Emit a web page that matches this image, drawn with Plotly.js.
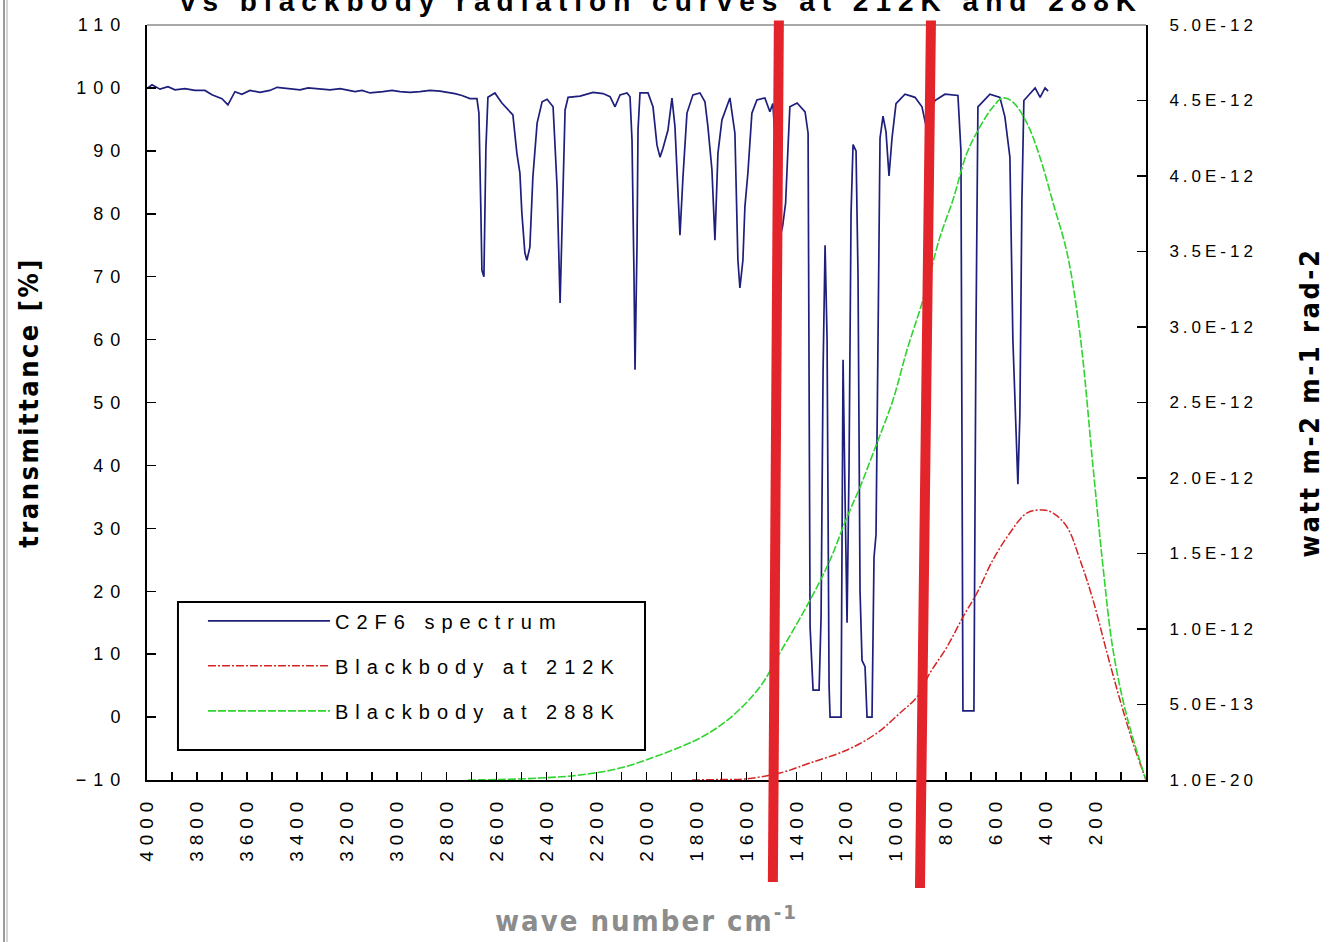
<!DOCTYPE html>
<html>
<head>
<meta charset="utf-8">
<script src="https://cdn.plot.ly/plotly-3.0.1.min.js"></script>
<style>
  html, body { margin: 0; padding: 0; background: #fff; }
  #chart { width: 1342px; height: 942px; }
  .xtick text { letter-spacing: 6px; }
  .ytick text { letter-spacing: 7px; }
  .y2tick text { letter-spacing: 4px; }
  .legendtext { letter-spacing: 7px; }
  .xtitle { letter-spacing: 2px; }
  .ytitle, .y2title { letter-spacing: 2.5px; }
  .gtitle { letter-spacing: 7px; }
</style>
</head>
<body>
<div id="chart"></div>
<script>
// ---- C2F6 transmittance spectrum (wave number cm-1, transmittance %) ----
const specWn = [4000,3980,3948,3916,3888,3848,3808,3768,3740,3700,3676,3648,3620,3588,3548,3508,3479,3427,3387,3355,3327,3267,3227,3195,3167,3139,3107,3055,3019,2987,2947,2907,2867,2827,2795,2767,2739,2707,2679,2671,2663,2659,2651,2647,2643,2635,2607,2579,2555,2535,2519,2507,2499,2487,2479,2467,2455,2438,2418,2398,2374,2358,2346,2334,2326,2314,2266,2214,2174,2146,2126,2106,2078,2066,2058,2050,2046,2038,2034,2026,1994,1974,1958,1946,1934,1914,1898,1886,1874,1866,1854,1838,1814,1786,1766,1754,1738,1726,1714,1698,1666,1646,1634,1626,1614,1606,1594,1578,1558,1526,1506,1494,1479,1467,1455,1443,1434,1426,1397,1365,1353,1349,1345,1333,1309,1301,1293,1285,1277,1269,1265,1221,1213,1205,1197,1189,1181,1173,1161,1153,1145,1137,1125,1117,1097,1089,1081,1073,1065,1053,1041,1029,1017,1001,965,925,897,881,865,845,805,753,741,733,689,681,673,625,585,565,545,533,521,513,505,497,489,465,444,424,404,392];
const specT = [99.9,100.5,99.8,100.2,99.7,99.9,99.6,99.6,98.9,98.3,97.3,99.4,99.0,99.6,99.3,99.6,100.1,99.9,99.7,100.0,99.9,99.7,99.9,99.6,99.4,99.6,99.2,99.4,99.6,99.4,99.3,99.4,99.6,99.5,99.3,99.1,98.8,98.3,98.3,96,80,71,70,80,90.4,98.5,99.2,97.6,96.5,95.7,89.6,86.5,80.1,73.8,72.6,74.7,85.8,94.4,97.8,98.2,97,84.2,65.8,84.2,96.5,98.5,98.7,99.3,99.1,98.6,97,98.9,99.2,98.6,91.7,70,55.2,75,93.3,99.2,99.2,97,90.9,89,90.4,93.3,98.4,93.8,83.3,76.6,85.8,96,98.9,99.2,97.8,93.8,87,75.8,89.6,94.9,98.4,92.8,72.6,68.2,72.6,81.1,86.5,96,98.1,98.4,96.2,97.5,88,76,78,81.7,90,97,97.6,96.2,92.8,62,14.3,4.3,4.3,16,55,75,60,5,0,0,56.8,35,15,40,80,91,90,70,20,9,8,0,0,25.4,29,60,92,95.5,93,86,92,97.5,99,98.5,97,94,96,98,99,98.8,90,1,1,60,97,99,98.5,95.4,89,60,48,37,48,81.7,98,99,100,98.5,100,99.5];

// ---- Blackbody at 212 K (wave number cm-1, watt m-2 m-1 rad-2) ----
const bb212Wn = [1818,1706,1606,1466,1345,1197,1077,985,917,865,797,733,677,613,545,477,412,372,316,264,212,156,104,52,0];
const bb212 = [0,0.003e-12,0.007e-12,0.046e-12,0.113e-12,0.199e-12,0.311e-12,0.444e-12,0.55e-12,0.709e-12,0.881e-12,1.079e-12,1.238e-12,1.457e-12,1.636e-12,1.768e-12,1.788e-12,1.768e-12,1.675e-12,1.457e-12,1.192e-12,0.841e-12,0.53e-12,0.245e-12,0];

// ---- Blackbody at 288 K ----
const bb288Wn = [2715,2587,2426,2266,2106,1946,1786,1666,1546,1466,1345,1265,1197,1145,1077,1013,957,893,825,773,717,665,613,573,533,477,425,372,316,264,212,172,132,76,0];
const bb288 = [0,0.003e-12,0.013e-12,0.033e-12,0.079e-12,0.166e-12,0.278e-12,0.41e-12,0.616e-12,0.841e-12,1.192e-12,1.457e-12,1.742e-12,1.94e-12,2.232e-12,2.517e-12,2.848e-12,3.179e-12,3.596e-12,3.841e-12,4.152e-12,4.325e-12,4.457e-12,4.517e-12,4.49e-12,4.351e-12,4.126e-12,3.821e-12,3.49e-12,2.947e-12,2.073e-12,1.411e-12,0.861e-12,0.417e-12,0];

// ---- axis ticks ----
const xTickVals = [4000,3800,3600,3400,3200,3000,2800,2600,2400,2200,2000,1800,1600,1400,1200,1000,800,600,400,200];
const yRightVals = [0,0.5e-12,1.0e-12,1.5e-12,2.0e-12,2.5e-12,3.0e-12,3.5e-12,4.0e-12,4.5e-12,5.0e-12];
const yRightText = ['1.0E-20','5.0E-13','1.0E-12','1.5E-12','2.0E-12','2.5E-12','3.0E-12','3.5E-12','4.0E-12','4.5E-12','5.0E-12'];

// hand-drawn red marker lines (wave number at top / bottom)
const markTopWn = [1470, 861];
const markBottomWn = [1494, 905];

const titleFont = {family: '"Liberation Sans Narrow", "DejaVu Sans Condensed", "Liberation Sans", sans-serif', size: 27, color: '#000', weight: 'bold'};

const traces = [
  {x: specWn, y: specT, type: 'scatter', mode: 'lines', name: 'C2F6 spectrum', legendgroup: 'a',
   line: {color: '#1e1e7c', width: 1.7}, yaxis: 'y'},
  {x: bb212Wn, y: bb212, type: 'scatter', mode: 'lines', name: 'Blackbody at 212K', legendgroup: 'b',
   line: {color: '#d42424', width: 1.5, dash: '8px,2px,2px,2px', shape: 'spline'}, yaxis: 'y2'},
  {x: bb288Wn, y: bb288, type: 'scatter', mode: 'lines', name: 'Blackbody at 288K', legendgroup: 'c',
   line: {color: '#2fd42f', width: 1.6, dash: '8px,2px', shape: 'spline'}, yaxis: 'y2'}
];

const shapes = [
  // legend frame
  {type: 'rect', xref: 'paper', yref: 'paper', x0: 0.031, x1: 0.4985, y0: 0.0397, y1: 0.2358,
   line: {color: '#000', width: 2}, fillcolor: '#fff', layer: 'below'},
  // top frame line (gray)
  {type: 'line', xref: 'paper', yref: 'paper', x0: 0, x1: 1, y0: 1, y1: 1, line: {color: '#a8a8a8', width: 2}},
  // outer picture border on the left
  {type: 'line', xref: 'paper', yref: 'paper', x0: -0.1431, x1: -0.1431, y0: 1.04, y1: -0.22, line: {color: '#9a9a9a', width: 2}},
  {type: 'line', xref: 'paper', yref: 'paper', x0: -0.1401, x1: -0.1401, y0: 1.04, y1: -0.22, line: {color: '#c8c8c8', width: 1.5}}
];
markTopWn.forEach((w, i) => {
  shapes.push({type: 'line', xref: 'x', yref: 'paper', x0: w, x1: markBottomWn[i], y0: 1.006, y1: i === 0 ? -0.135 : -0.143,
    line: {color: '#e3242b', width: 10}, layer: 'above'});
});

const layout = {
  width: 1342, height: 942,
  margin: {l: 147, r: 196, t: 25, b: 162, pad: 0},
  paper_bgcolor: '#fff', plot_bgcolor: '#fff',
  font: {family: '"Liberation Sans", Arial, sans-serif', color: '#000'},
  showlegend: true,
  title: {text: 'vs blackbody radiation curves at 212K and 288K', xref: 'paper', x: 0.515, xanchor: 'center',
          yref: 'container', y: 0.999, yanchor: 'middle',
          font: {family: '"Liberation Sans", Arial, sans-serif', size: 28, color: '#000', weight: 'bold'}},
  xaxis: {
    range: [4000, 0], tickmode: 'array', tickvals: xTickVals, ticks: 'inside', ticklen: 8, tickwidth: 1.5, tickcolor: '#000',
    tickangle: -90, tickfont: {size: 19, color: '#000'}, showline: true, linecolor: '#000', linewidth: 2,
    showgrid: false, zeroline: false, ticklabelstandoff: 6,
    minor: {tickmode: 'linear', tick0: 0, dtick: 100, ticks: 'inside', ticklen: 8, tickwidth: 1.5, tickcolor: '#000', showgrid: false},
    title: {text: 'wave number cm<sup>-1</sup>', standoff: 50,
            font: {family: '"Liberation Sans Narrow", "DejaVu Sans Condensed", sans-serif', size: 29, color: '#8c8c8c', weight: 'bold'}}
  },
  yaxis: {
    range: [-10, 110], tick0: 0, dtick: 10, ticks: 'inside', ticklen: 9, tickwidth: 1.5, tickcolor: '#000',
    tickfont: {size: 18, color: '#000'}, showline: true, linecolor: '#000', linewidth: 2,
    showgrid: false, zeroline: false, ticklabelstandoff: 14,
    title: {text: 'transmittance [%]', standoff: 29, font: titleFont}
  },
  yaxis2: {
    overlaying: 'y', side: 'right', range: [0, 5e-12], tickmode: 'array', tickvals: yRightVals, ticktext: yRightText,
    ticks: 'inside', ticklen: 9, tickwidth: 1.5, tickcolor: '#000', tickfont: {size: 17, color: '#000'},
    showline: true, linecolor: '#000', linewidth: 2, showgrid: false, zeroline: false, ticklabelstandoff: 18,
    title: {text: 'watt m-2 m-1 rad-2', standoff: 44, font: titleFont}
  },
  legend: {
    x: 0.056, xanchor: 'left', y: 0.2366, yanchor: 'top', bgcolor: 'rgba(0,0,0,0)', borderwidth: 0,
    font: {size: 20, color: '#000'}, itemwidth: 122, tracegroupgap: 16, traceorder: 'grouped'
  },
  shapes: shapes
};

Plotly.newPlot('chart', traces, layout, {staticPlot: true, displayModeBar: false});
</script>
</body>
</html>
